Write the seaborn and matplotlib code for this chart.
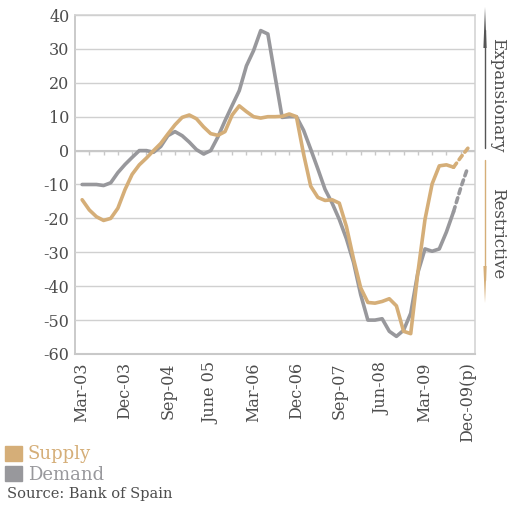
import numpy as np
import pandas as pd
import matplotlib.pyplot as plt
import seaborn as sns
from matplotlib.patches import Patch, Polygon
from matplotlib.lines import Line2D

# Quarterly axis, Mar-03 .. Dec-09 (28 quarters); labels every 3rd quarter
tick_labels = ['Mar-03', 'Dec-03', 'Sep-04', 'June 05', 'Mar-06',
               'Dec-06', 'Sep-07', 'Jun-08', 'Mar-09', 'Dec-09(p)']
n_quarters = 28

# Values every half quarter
supply = [-14.5, -17.5, -19.5, -20.6, -20.0, -17.0, -11.5, -7.0, -4.2, -2.2,
          0.0, 2.1, 4.9, 7.6, 9.8, 10.5, 9.4, 7.0, 5.0, 4.5,
          5.6, 10.5, 13.2, 11.5, 10.0, 9.6, 10.0, 10.0, 10.1, 10.8,
          10.0, -1.0, -10.5, -13.8, -14.7, -14.5, -15.5, -22.4, -32.0, -40.5,
          -44.8, -45.0, -44.5, -43.7, -45.8, -53.3, -54.0, -36.0, -20.3, -9.8,
          -4.5, -4.2, -4.9, -2.0, 0.7]
demand = [-10.0, -10.0, -10.0, -10.3, -9.5, -6.5, -4.1, -2.0, 0.0, 0.0,
          -0.5, 1.2, 4.4, 5.6, 4.4, 2.5, 0.3, -1.0, 0.0, 4.0,
          8.8, 13.3, 17.7, 25.0, 29.5, 35.4, 34.4, 22.0, 9.8, 10.0,
          10.0, 6.0, 0.4, -5.4, -11.4, -15.5, -20.3, -26.0, -33.0, -42.5,
          -50.0, -50.0, -49.6, -53.3, -54.8, -53.0, -48.0, -36.0, -29.0, -29.7,
          -29.0, -24.0, -18.0, -11.0, -4.9]
n_proj = 3  # last points (Sep-09 -> Dec-09) are a forecast, drawn dashed

TAN = '#d5ae78'
GRAY = '#98989c'
TEXT = '#4d4d4d'
W, H = 507, 511


def fx(px):
    return px / W


def fy(py):
    return 1 - py / H


sns.set_theme(style='white')
plt.rcParams['font.family'] = ['DejaVu Serif']

x = np.arange(len(supply)) / 2.0
df = pd.DataFrame({'q': x, 'Supply': supply, 'Demand': demand})

fig = plt.figure(figsize=(W / 100, H / 100), dpi=100)
ax = fig.add_axes([fx(75), fy(354), 400 / W, 339 / H])

for name, col in [('Demand', GRAY), ('Supply', TAN)]:
    solid = df.iloc[:len(df) - n_proj + 1]
    proj = df.iloc[len(df) - n_proj:]
    sns.lineplot(data=solid, x='q', y=name, ax=ax, color=col, lw=2.6,
                 solid_capstyle='round', solid_joinstyle='round')
    sns.lineplot(data=proj, x='q', y=name, ax=ax, color=col, lw=2.6,
                 linestyle=(0, (1.4, 1.2)), dash_capstyle='round')

ax.set_xlim(-0.5, n_quarters - 0.5)
ax.set_ylim(-60, 40)
yt = np.arange(-60, 41, 10)
ax.set_yticks(yt)
ax.set_yticklabels([str(v) for v in yt])
ax.set_xticks(np.arange(0, n_quarters, 3))
ax.set_xticklabels(tick_labels, rotation=90)
ax.set_xlabel('')
ax.set_ylabel('')
ax.tick_params(axis='both', length=0, labelsize=11.5, colors=TEXT)
ax.tick_params(axis='y', pad=4)
ax.tick_params(axis='x', pad=6)
ax.grid(axis='y', color='#d0d0d0', lw=1)
for s in ['top', 'right']:
    ax.spines[s].set_color('#d6d6d6')
ax.spines['left'].set_color('#c4c4c4')
ax.spines['bottom'].set_color('#c8c8c8')
ax.spines['bottom'].set_linewidth(1.5)
for s in ax.spines.values():
    s.set_zorder(0.5)

# small category ticks hanging from the zero line
bounds = np.arange(n_quarters - 1) + 0.5
ax.vlines(bounds, -1.3, 0, color='#c8c8c8', lw=1, zorder=1)
ax.axhline(0, color='#c8c8c8', lw=1.5, zorder=1)

# right-hand annotation: thin lines with long narrow arrow heads
ax_x = 485
fig.add_artist(Line2D([fx(ax_x)] * 2, [fy(148), fy(30)], color='#555555',
                      lw=1.0, transform=fig.transFigure))
fig.add_artist(Polygon([(fx(ax_x - 1.6), fy(48)), (fx(ax_x + 1.6), fy(48)),
                        (fx(ax_x), fy(7))], closed=True, color='#555555',
                       lw=0, transform=fig.transFigure))
fig.add_artist(Line2D([fx(ax_x)] * 2, [fy(160), fy(280)], color=TAN,
                      lw=1.0, transform=fig.transFigure))
fig.add_artist(Polygon([(fx(ax_x - 1.6), fy(266)), (fx(ax_x + 1.6), fy(266)),
                        (fx(ax_x), fy(303))], closed=True, color=TAN,
                       lw=0, transform=fig.transFigure))
fig.text(fx(498), fy(95), 'Expansionary', rotation=-90, ha='center',
         va='center', fontsize=12, color=TEXT)
fig.text(fx(498), fy(234), 'Restrictive', rotation=-90, ha='center',
         va='center', fontsize=12, color=TEXT)

# legend and source
leg = fig.legend(handles=[Patch(color=TAN, label='Supply'),
                          Patch(color=GRAY, label='Demand')],
                 loc='upper left', bbox_to_anchor=(0.0, fy(440)),
                 frameon=False, fontsize=13, handlelength=0.9,
                 handleheight=0.9, handletextpad=0.35, labelspacing=0.15,
                 borderaxespad=0, borderpad=0.3)
for t, c in zip(leg.get_texts(), [TAN, GRAY]):
    t.set_color(c)
fig.text(fx(7), fy(494), 'Source: Bank of Spain', fontsize=10.5,
         color=TEXT, va='center')

fig.savefig('out.png', dpi=100)
